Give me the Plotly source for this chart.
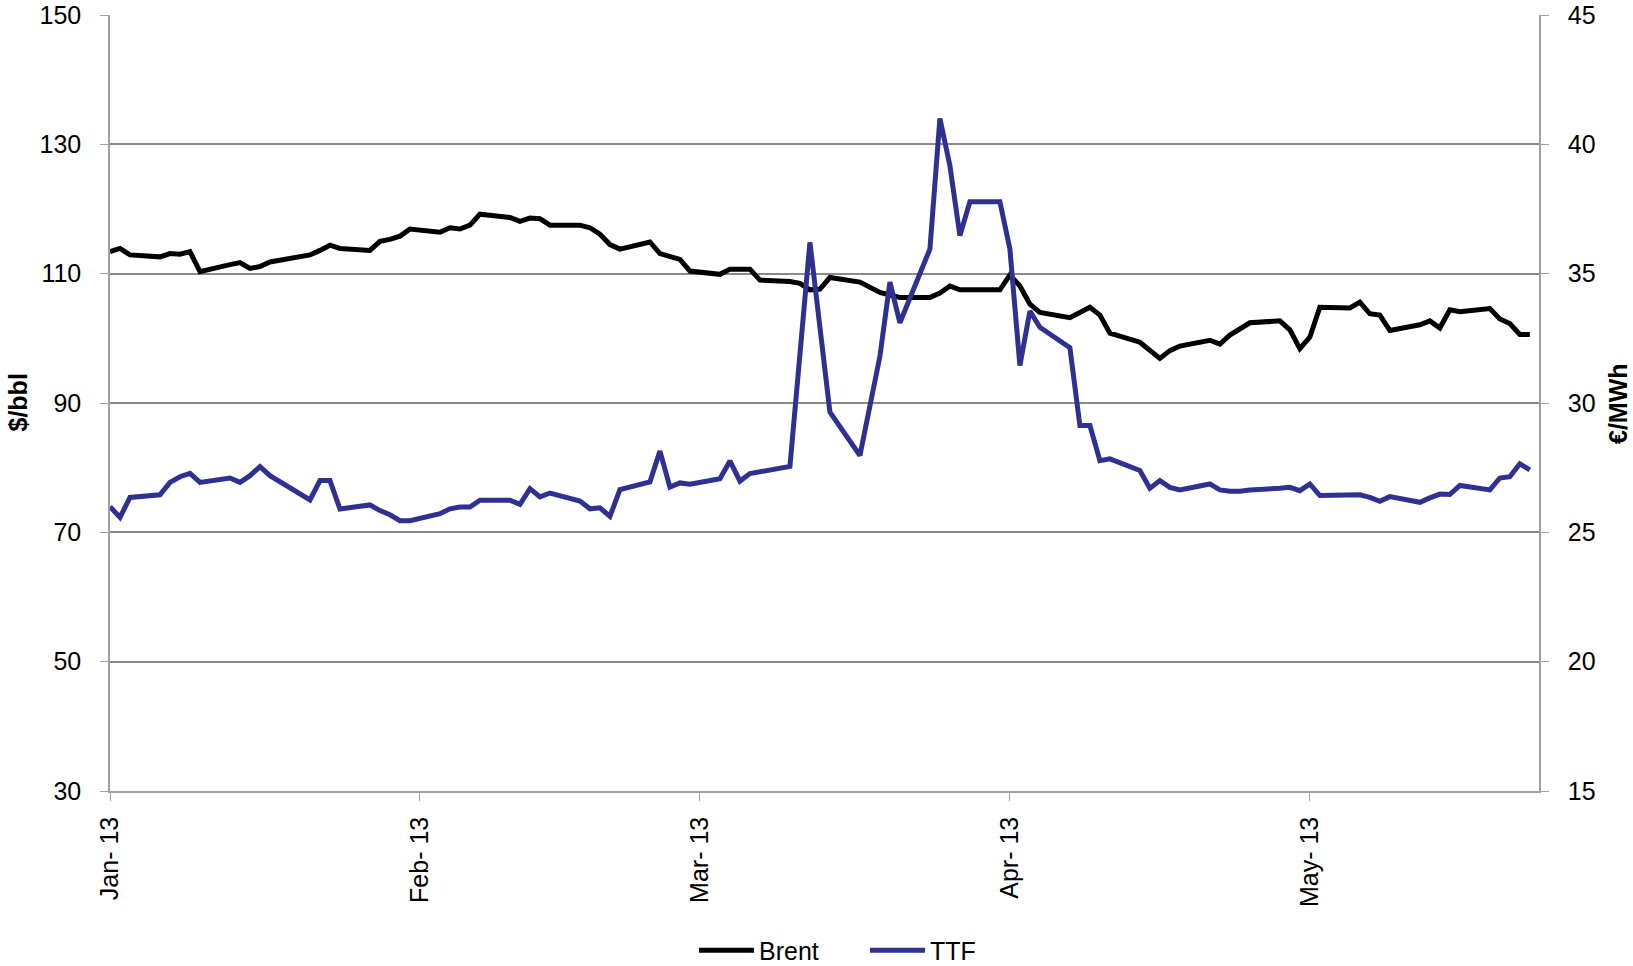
import pandas as pd
import plotly.graph_objects as go

# Business days Jan 2 2013 - May 24 2013
dates = pd.bdate_range("2013-01-02", "2013-05-24")

brent = [
    # Jan
    113.4, 113.9, 112.9, 112.6, 113.1, 113.0, 113.4, 110.3, 111.4, 111.7,
    110.8, 111.1, 111.8, 112.5, 112.9, 113.6, 114.4, 113.9, 113.6, 115.0,
    115.3, 115.8,
    # Feb
    116.9, 116.4, 117.1, 116.9, 117.5, 119.2, 118.7, 118.1, 118.6, 118.5,
    117.5, 117.5, 117.1, 116.1, 114.5, 113.8, 114.9, 113.1, 112.6, 112.2,
    # Mar
    110.4, 109.9, 110.7, 110.7, 110.7, 109.0, 108.8, 108.5, 107.5, 107.6,
    109.4, 108.7, 107.8, 107.1, 106.7, 106.3, 106.3, 107.0, 108.1, 107.5,
    107.5,
    # Apr
    107.5, 109.8, 108.1, 105.3, 104.0, 103.2, 104.0, 104.8, 103.6, 100.8,
    99.4, 98.2, 96.9, 98.1, 98.8, 99.7, 99.1, 100.5, 101.5, 102.4,
    102.7, 101.3,
    # May
    98.4, 100.2, 104.8, 104.7, 105.6, 103.8, 103.6, 101.2, 102.1, 102.7,
    101.6, 104.4, 104.1, 104.6, 103.0, 102.3, 100.6, 100.6,
]

ttf = [
    # Jan
    25.99, 25.58, 26.35, 26.45, 26.93, 27.15, 27.28, 26.93, 27.10, 26.93,
    27.19, 27.54, 27.19, None, 26.25, 27.00, 27.00, 25.90, 26.06, 25.84,
    25.68, 25.45,
    # Feb
    25.45, 25.72, 25.91, 25.98, 25.98, 26.24, 26.24, 26.08, 26.69, 26.37,
    26.52, 26.21, 25.91, 25.95, 25.62, 26.65, 26.95, 28.14, 26.75, 26.91,
    # Mar
    26.86, 27.07, 27.76, 26.98, 27.27, None, 27.55, None, 36.21, None,
    29.65, 27.97, None, 31.80, 34.67, 33.10, 35.95, 41.00, 39.17, 36.47,
    37.78,
    # Apr
    37.78, 35.95, 31.45, 33.55, 32.93, 32.14, 29.13, 29.13, 27.77, 27.84,
    27.39, 26.70, 27.00, 26.74, 26.64, 26.87, 26.64, 26.59, 26.59, 26.64,
    26.70, 26.74,
    # May
    26.61, 26.87, 26.42, 26.45, 26.45, 26.35, 26.20, 26.38, 26.16, 26.33,
    26.48, 26.46, 26.81, 26.64, 27.10, 27.15, 27.65, 27.41,
]

tick_dates = ["2013-01-02", "2013-02-02", "2013-03-02", "2013-04-02", "2013-05-02"]
tick_labels = ["Jan- 13", "Feb- 13", "Mar- 13", "Apr- 13", "May- 13"]
left_ticks = [30, 50, 70, 90, 110, 130, 150]
right_ticks = [15, 20, 25, 30, 35, 40, 45]

FONT = "Liberation Sans, Arial, sans-serif"
GRID = "#8a8a8a"
AXIS = "#a0a0a0"
L, R = 110, 94
PW = 1633 - L - R

fig = go.Figure()
fig.add_trace(go.Scatter(x=dates, y=brent, name="Brent", mode="lines",
                         line=dict(color="black", width=5), connectgaps=True))
fig.add_trace(go.Scatter(x=dates, y=ttf, name="TTF", mode="lines", yaxis="y2",
                         line=dict(color="#2E3192", width=5), connectgaps=True))

fig.update_layout(
    width=1633, height=966,
    margin=dict(l=L, r=R, t=15, b=175, autoexpand=False),
    paper_bgcolor="white", plot_bgcolor="white",
    font=dict(family=FONT, size=25, color="black"),
    showlegend=True,
    legend=dict(orientation="h", x=(694 - L) / PW, xanchor="left", y=-0.2055,
                yanchor="middle", font=dict(size=25), itemwidth=55,
                entrywidth=101, entrywidthmode="pixels",
                traceorder="normal"),
    xaxis=dict(
        type="date", range=["2013-01-02", "2013-05-24 22:00"],
        tickmode="array", tickvals=tick_dates, ticktext=tick_labels,
        tickangle=-90, ticks="outside", ticklen=8, tickcolor=AXIS,
        showgrid=False, showline=True, linecolor=AXIS, linewidth=1.5,
        zeroline=False, ticklabelstandoff=6, automargin=False,
    ),
    yaxis=dict(
        range=[30, 150], tickmode="array", tickvals=left_ticks,
        ticks="outside", ticklen=8, tickcolor=AXIS,
        showgrid=True, gridcolor=GRID, gridwidth=1.8,
        showline=True, linecolor=AXIS, linewidth=1.5, zeroline=False,
        ticklabelstandoff=14, automargin=False,
    ),
    yaxis2=dict(
        range=[15, 45], tickmode="array", tickvals=right_ticks,
        overlaying="y", side="right",
        ticks="outside", ticklen=8, tickcolor=AXIS,
        showgrid=False, showline=True, linecolor=AXIS, linewidth=1.5,
        zeroline=False, ticklabelstandoff=14, automargin=False,
    ),
    annotations=[
        dict(text="<b>$/bbl</b>", xref="paper", yref="paper",
             x=(17.5 - L) / PW, y=0.5, xanchor="center", yanchor="middle",
             textangle=-90, showarrow=False, font=dict(size=25, family=FONT)),
        dict(text="<b>€/MWh</b>", xref="paper", yref="paper",
             x=(1618 - L) / PW, y=0.5, xanchor="center", yanchor="middle",
             textangle=-90, showarrow=False, font=dict(size=25, family=FONT)),
    ],
)

fig.write_html(
    "out.html",
    config={"displayModeBar": False},
    post_script="document.body.style.margin='0';document.body.style.overflow='hidden';",
)
